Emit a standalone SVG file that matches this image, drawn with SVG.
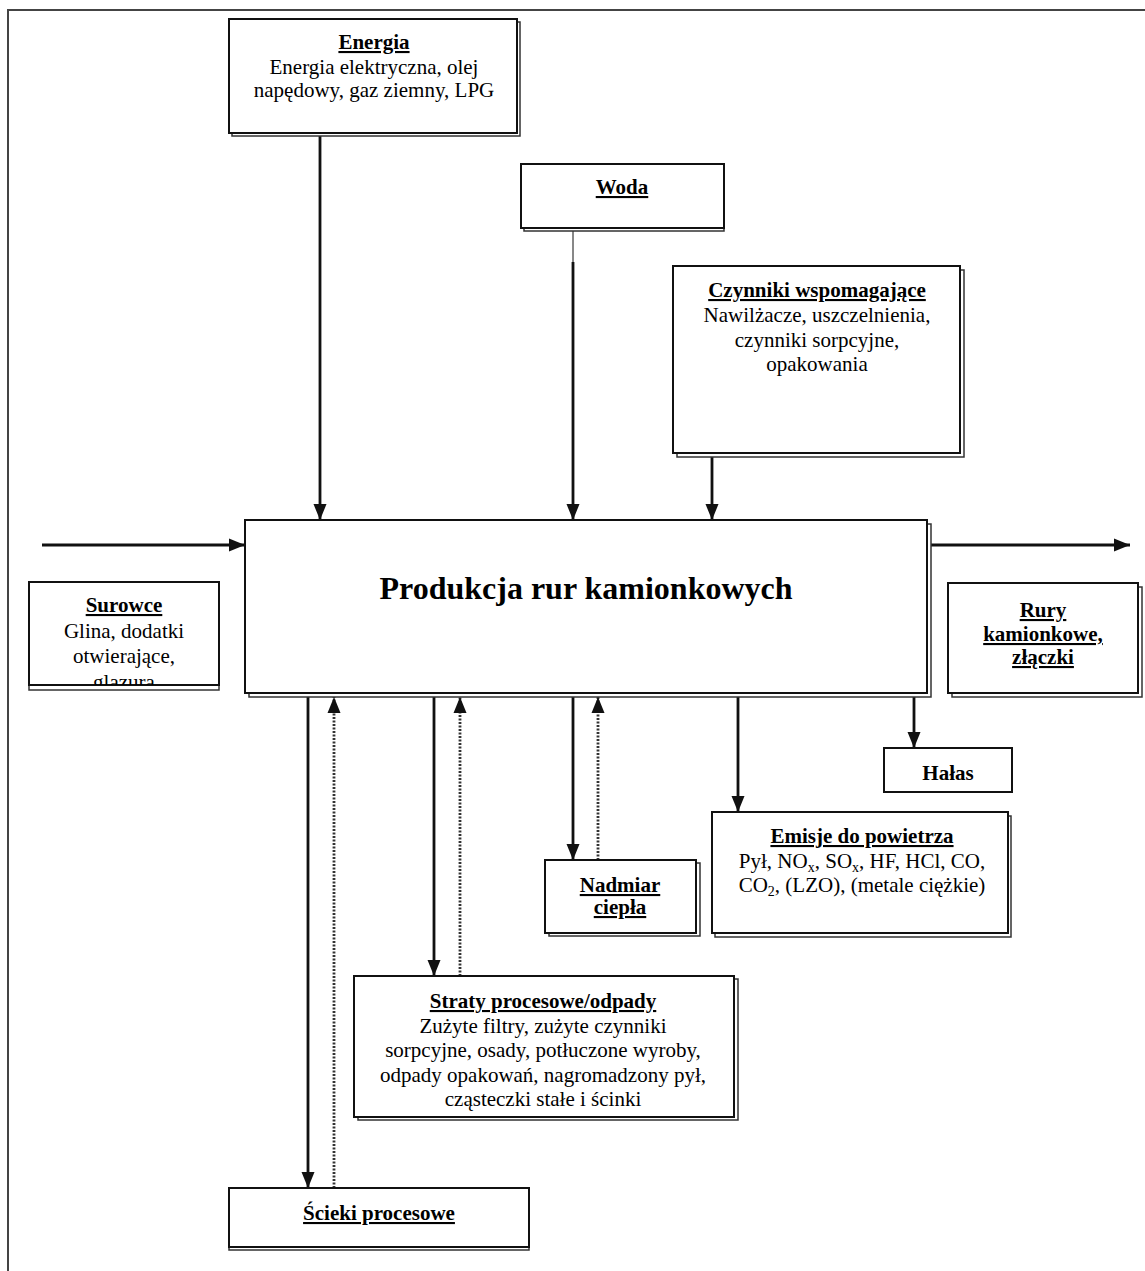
<svg xmlns="http://www.w3.org/2000/svg" width="1145" height="1271" viewBox="0 0 1145 1271">
  <style>
    .frame { fill: none; stroke: #444; stroke-width: 2; }
    .box { fill: #fff; stroke: #111; stroke-width: 2; }
    .shadow { fill: #fff; stroke: #333; stroke-width: 1.5; }
    .t { font-family: "Liberation Serif", "Times New Roman", serif; font-size: 21px; text-anchor: middle; fill: #000; }
    .h { font-weight: bold; text-decoration: underline; }
    .bold { font-weight: bold; }
    .big { font-size: 32px; font-weight: bold; }
    .sub { font-size: 14px; }
    .flow { fill: none; stroke: #111; stroke-width: 2.8; }
    .thin { fill: none; stroke: #111; stroke-width: 1; }
    .back { fill: none; stroke: #333; stroke-width: 2.8; stroke-dasharray: 2 1.5; }
  </style>
  <defs>
    <marker id="arrow" markerUnits="userSpaceOnUse" markerWidth="16" markerHeight="16" viewBox="0 0 16 16" refX="16" refY="8" orient="auto">
      <path d="M0,1.5 L16,8 L0,14.5 Z" fill="#111"/>
    </marker>
    <clipPath id="clipSurowce">
      <rect x="29" y="582" width="190" height="103"/>
    </clipPath>
  </defs>

  <!-- page frame -->
  <rect class="frame" x="8" y="10" width="1160" height="1290"/>

  <!-- connectors -->
  <g id="connectors">
    <line class="flow" x1="42" y1="545" x2="245" y2="545" marker-end="url(#arrow)"/>
    <line class="flow" x1="931" y1="545" x2="1130" y2="545" marker-end="url(#arrow)"/>
    <line class="flow" x1="320" y1="136" x2="320" y2="520" marker-end="url(#arrow)"/>
    <line class="thin" x1="573" y1="231" x2="573" y2="262"/>
    <line class="flow" x1="573" y1="262" x2="573" y2="520" marker-end="url(#arrow)"/>
    <line class="flow" x1="712" y1="457" x2="712" y2="520" marker-end="url(#arrow)"/>
    <line class="flow" x1="308" y1="697" x2="308" y2="1188" marker-end="url(#arrow)"/>
    <line class="back" x1="334" y1="1188" x2="334" y2="697" marker-end="url(#arrow)"/>
    <line class="flow" x1="434" y1="697" x2="434" y2="976" marker-end="url(#arrow)"/>
    <line class="back" x1="460" y1="976" x2="460" y2="697" marker-end="url(#arrow)"/>
    <line class="flow" x1="573" y1="697" x2="573" y2="860" marker-end="url(#arrow)"/>
    <line class="back" x1="598" y1="860" x2="598" y2="697" marker-end="url(#arrow)"/>
    <line class="flow" x1="738" y1="697" x2="738" y2="812" marker-end="url(#arrow)"/>
    <line class="flow" x1="914" y1="697" x2="914" y2="748" marker-end="url(#arrow)"/>
  </g>

  <!-- process -->
  <g id="produkcja">
    <rect class="shadow" x="249" y="524" width="682" height="173"/>
    <rect class="box" x="245" y="520" width="682" height="173"/>
    <text class="t big" x="586" y="599">Produkcja rur kamionkowych</text>
  </g>

  <g id="energia">
    <rect class="shadow" x="232" y="22" width="288" height="114"/>
    <rect class="box" x="229" y="19" width="288" height="114"/>
    <text class="t h" x="374" y="49">Energia</text>
    <text class="t" x="374" y="74">Energia elektryczna, olej</text>
    <text class="t" x="374" y="97">napędowy, gaz ziemny, LPG</text>
  </g>

  <g id="woda">
    <rect class="shadow" x="524" y="167" width="200" height="64"/>
    <rect class="box" x="521" y="164" width="203" height="64"/>
    <text class="t h" x="622" y="194">Woda</text>
  </g>

  <g id="czynniki">
    <rect class="shadow" x="677" y="270" width="287" height="187"/>
    <rect class="box" x="673" y="266" width="287" height="187"/>
    <text class="t h" x="817" y="297">Czynniki wspomagające</text>
    <text class="t" x="817" y="322">Nawilżacze, uszczelnienia,</text>
    <text class="t" x="817" y="347">czynniki sorpcyjne,</text>
    <text class="t" x="817" y="371">opakowania</text>
  </g>

  <g id="surowce">
    <rect class="shadow" x="29" y="586" width="190" height="104"/>
    <rect class="box" x="29" y="582" width="190" height="103"/>
    <g clip-path="url(#clipSurowce)">
      <text class="t h" x="124" y="612">Surowce</text>
      <text class="t" x="124" y="638">Glina, dodatki</text>
      <text class="t" x="124" y="663">otwierające,</text>
      <text class="t" x="124" y="689">glazura</text>
    </g>
  </g>

  <g id="rury">
    <rect class="shadow" x="952" y="587" width="190" height="110"/>
    <rect class="box" x="948" y="583" width="190" height="110"/>
    <text class="t h" x="1043" y="617">Rury</text>
    <text class="t h" x="1043" y="641">kamionkowe,</text>
    <text class="t h" x="1043" y="664">złączki</text>
  </g>

  <g id="halas">
    <rect class="box" x="884" y="748" width="128" height="44"/>
    <text class="t bold" x="948" y="780">Hałas</text>
  </g>

  <g id="emisje">
    <rect class="shadow" x="715" y="816" width="296" height="121"/>
    <rect class="box" x="712" y="812" width="296" height="121"/>
    <text class="t h" x="862" y="843">Emisje do powietrza</text>
    <text class="t" x="862" y="868">Pył, NO<tspan class="sub" dy="4">x</tspan><tspan dy="-4">, SO</tspan><tspan class="sub" dy="4">x</tspan><tspan dy="-4">, HF, HCl, CO,</tspan></text>
    <text class="t" x="862" y="892">CO<tspan class="sub" dy="4">2</tspan><tspan dy="-4">, (LZO), (metale ciężkie)</tspan></text>
  </g>

  <g id="nadmiar">
    <rect class="shadow" x="549" y="863" width="151" height="73"/>
    <rect class="box" x="545" y="860" width="151" height="73"/>
    <text class="t h" x="620" y="892">Nadmiar</text>
    <text class="t h" x="620" y="914">ciepła</text>
  </g>

  <g id="straty">
    <rect class="shadow" x="358" y="979" width="380" height="141"/>
    <rect class="box" x="354" y="976" width="380" height="141"/>
    <text class="t h" x="543" y="1008">Straty procesowe/odpady</text>
    <text class="t" x="543" y="1033">Zużyte filtry, zużyte czynniki</text>
    <text class="t" x="543" y="1057">sorpcyjne, osady, potłuczone wyroby,</text>
    <text class="t" x="543" y="1082">odpady opakowań, nagromadzony pył,</text>
    <text class="t" x="543" y="1106">cząsteczki stałe i ścinki</text>
  </g>

  <g id="scieki">
    <rect class="shadow" x="229" y="1191" width="300" height="59"/>
    <rect class="box" x="229" y="1188" width="300" height="59"/>
    <text class="t h" x="379" y="1220">Ścieki procesowe</text>
  </g>
</svg>
